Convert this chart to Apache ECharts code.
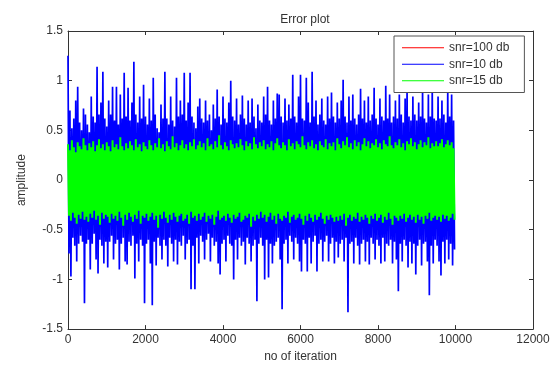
<!DOCTYPE html>
<html><head><meta charset="utf-8">
<script src="https://cdn.jsdelivr.net/npm/echarts@6/dist/echarts.min.js"></script>
<style>html,body{margin:0;padding:0;background:#fff}#c{width:555px;height:368px}</style>
</head><body><div id="c"></div>
<script>
// iteration step between successive samples (each sample = one peak + one trough)
const STEP = 50;
const xTicks = [0, 2000, 4000, 6000, 8000, 10000, 12000];
const yTicks = [-1.5, -1, -0.5, 0, 0.5, 1, 1.5];
const seriesNames = ['snr=100 db', 'snr=10 db', 'snr=15 db'];

// snr=10 db (blue) upper peaks
const blueHi = [
1.25,0.70,0.52,0.62,0.80,0.94,0.58,0.50,0.72,0.66,
0.56,0.48,0.84,0.64,0.58,1.14,0.66,0.78,1.09,0.62,
0.54,0.80,0.66,0.94,0.60,0.94,0.56,0.86,0.62,1.08,
0.64,0.93,0.60,0.78,1.19,0.66,0.58,0.84,0.62,0.96,
0.64,0.56,0.82,0.60,1.03,0.66,0.52,0.48,0.76,0.62,
1.09,0.62,0.56,0.84,0.60,0.54,1.03,0.64,0.80,0.66,
1.08,0.60,0.78,1.08,0.64,0.58,0.52,0.74,0.82,0.62,
0.58,0.80,0.60,0.66,0.50,0.76,0.62,0.91,0.64,0.56,
0.84,0.62,0.58,0.78,1.00,0.64,0.60,0.82,0.56,0.66,
0.85,0.62,0.56,0.80,0.58,0.82,0.64,0.52,0.76,0.60,
0.58,0.84,0.66,0.94,0.60,0.56,0.80,0.62,0.87,0.86,
0.64,0.58,0.82,0.60,0.76,0.62,1.06,0.64,0.58,0.84,
1.06,0.62,0.60,1.03,0.78,0.58,1.09,0.64,0.80,0.56,
0.66,0.82,0.60,0.56,0.84,0.62,0.88,0.64,0.58,0.78,
0.62,0.80,1.01,0.64,0.58,0.84,0.60,0.86,0.62,0.56,
0.66,0.92,0.62,0.80,0.58,0.84,0.60,0.66,0.93,0.62,
0.56,0.82,0.64,0.60,0.95,0.62,0.86,0.58,0.64,0.80,
0.62,0.86,0.66,0.58,0.82,0.92,0.64,0.60,0.84,0.66,
0.60,0.78,0.64,0.92,0.62,0.58,0.86,0.64,0.93,0.62,
0.60,0.84,0.62,0.80,0.66,0.58,0.92,0.64,0.86,0.60];
// snr=10 db (blue) lower troughs
const blueLo = [
-0.74,-0.97,-0.58,-0.66,-0.82,-0.64,-0.56,-0.62,-1.24,-0.64,
-0.60,-0.90,-0.64,-0.54,-0.80,-0.94,-0.60,-0.66,-0.84,-0.62,
-0.88,-0.62,-0.56,-0.80,-0.64,-0.60,-0.90,-0.64,-0.58,-0.82,
-0.85,-0.62,-0.66,-0.56,-0.99,-0.64,-0.82,-0.60,-0.66,-1.24,
-0.64,-0.60,-0.84,-1.26,-0.62,-0.86,-0.58,-0.66,-0.80,-0.60,
-0.66,-0.87,-0.58,-0.64,-0.82,-0.60,-0.85,-0.62,-0.66,-0.56,
-0.80,-0.64,-0.60,-1.10,-0.66,-1.10,-0.58,-0.84,-0.56,-0.62,
-0.80,-0.60,-0.54,-0.82,-0.58,-0.66,-0.62,-0.84,-0.95,-0.64,
-0.60,-0.82,-0.56,-0.64,-0.66,-1.00,-0.60,-0.80,-0.58,-0.66,
-0.62,-0.85,-0.58,-0.64,-0.82,-0.66,-0.60,-1.22,-0.64,-0.58,
-0.66,-1.00,-0.60,-0.98,-0.64,-0.84,-0.66,-0.62,-0.58,-0.80,
-1.30,-0.64,-0.60,-0.84,-0.56,-0.62,-0.80,-0.58,-0.64,-0.82,
-0.92,-0.60,-0.64,-0.92,-0.58,-0.84,-0.62,-0.56,-0.92,-0.64,
-0.60,-0.82,-0.62,-0.56,-0.82,-0.64,-0.58,-0.84,-0.62,-0.78,
-0.64,-0.60,-0.82,-0.58,-1.33,-0.64,-0.62,-0.84,-0.58,-0.66,
-0.85,-0.64,-0.60,-0.82,-0.62,-0.85,-0.58,-0.64,-0.80,-0.60,
-0.66,-0.84,-0.58,-0.82,-0.64,-0.66,-0.60,-0.84,-0.62,-0.80,
-1.12,-0.64,-0.82,-0.60,-0.66,-0.88,-0.62,-0.84,-0.64,-0.95,
-0.66,-0.60,-0.86,-0.64,-0.62,-0.82,-1.16,-0.66,-0.84,-0.60,
-0.66,-0.82,-0.96,-0.62,-0.84,-0.60,-0.80,-0.64,-0.86,-0.70];
// snr=15 db (green) upper peaks
const greenHi = [
0.36,0.30,0.40,0.33,0.28,0.38,0.34,0.31,0.42,0.35,
0.30,0.37,0.33,0.39,0.29,0.35,0.41,0.32,0.36,0.30,
0.38,0.34,0.29,0.40,0.33,0.36,0.31,0.43,0.34,0.30,
0.37,0.32,0.39,0.35,0.30,0.41,0.33,0.36,0.29,0.38,
0.34,0.31,0.40,0.35,0.30,0.37,0.33,0.42,0.32,0.36,
0.29,0.39,0.34,0.31,0.44,0.33,0.37,0.30,0.35,0.40,
0.32,0.36,0.30,0.38,0.34,0.41,0.31,0.35,0.39,0.33,
0.37,0.30,0.42,0.34,0.36,0.31,0.39,0.33,0.45,0.35,
0.31,0.38,0.34,0.30,0.40,0.36,0.32,0.37,0.33,0.41,
0.35,0.30,0.39,0.34,0.37,0.31,0.43,0.36,0.32,0.38,
0.34,0.40,0.31,0.36,0.33,0.39,0.30,0.37,0.42,0.35,
0.32,0.38,0.35,0.30,0.41,0.34,0.37,0.31,0.39,0.36,
0.33,0.44,0.35,0.31,0.38,0.34,0.40,0.32,0.36,0.30,
0.39,0.35,0.33,0.41,0.31,0.37,0.34,0.38,0.30,0.42,
0.36,0.32,0.39,0.35,0.43,0.33,0.37,0.31,0.40,0.34,
0.38,0.30,0.36,0.42,0.34,0.39,0.32,0.37,0.35,0.41,
0.33,0.37,0.31,0.40,0.36,0.34,0.44,0.35,0.32,0.38,
0.35,0.41,0.33,0.37,0.30,0.39,0.36,0.42,0.34,0.38,
0.31,0.36,0.40,0.33,0.38,0.35,0.43,0.32,0.37,0.34,
0.39,0.34,0.37,0.41,0.33,0.36,0.40,0.35,0.38,0.32];
// snr=15 db (green) lower troughs
const greenLo = [
-0.36,-0.41,-0.33,-0.38,-0.44,-0.35,-0.39,-0.32,-0.40,-0.37,
-0.42,-0.34,-0.38,-0.31,-0.40,-0.36,-0.45,-0.33,-0.39,-0.35,
-0.37,-0.43,-0.34,-0.39,-0.36,-0.41,-0.32,-0.38,-0.46,-0.35,
-0.40,-0.33,-0.37,-0.42,-0.35,-0.39,-0.31,-0.44,-0.36,-0.38,
-0.34,-0.41,-0.37,-0.33,-0.40,-0.36,-0.48,-0.35,-0.39,-0.32,
-0.38,-0.43,-0.35,-0.40,-0.33,-0.37,-0.42,-0.36,-0.34,-0.41,
-0.39,-0.35,-0.44,-0.32,-0.38,-0.36,-0.41,-0.34,-0.40,-0.37,
-0.33,-0.42,-0.36,-0.39,-0.35,-0.45,-0.37,-0.31,-0.40,-0.38,
-0.36,-0.41,-0.34,-0.38,-0.43,-0.35,-0.39,-0.37,-0.33,-0.42,
-0.40,-0.36,-0.38,-0.34,-0.47,-0.37,-0.41,-0.35,-0.39,-0.32,
-0.38,-0.35,-0.42,-0.37,-0.33,-0.40,-0.36,-0.44,-0.34,-0.39,
-0.41,-0.36,-0.38,-0.32,-0.43,-0.37,-0.35,-0.40,-0.38,-0.34,
-0.39,-0.45,-0.36,-0.41,-0.34,-0.38,-0.42,-0.35,-0.40,-0.37,
-0.33,-0.39,-0.44,-0.36,-0.40,-0.35,-0.38,-0.42,-0.37,-0.41,
-0.36,-0.40,-0.34,-0.46,-0.38,-0.35,-0.41,-0.37,-0.39,-0.33,
-0.42,-0.37,-0.40,-0.35,-0.38,-0.44,-0.36,-0.39,-0.34,-0.41,
-0.38,-0.35,-0.43,-0.37,-0.40,-0.33,-0.39,-0.45,-0.36,-0.38,
-0.41,-0.36,-0.39,-0.34,-0.42,-0.38,-0.35,-0.40,-0.37,-0.43,
-0.35,-0.40,-0.37,-0.44,-0.36,-0.39,-0.33,-0.41,-0.38,-0.36,
-0.40,-0.37,-0.42,-0.35,-0.39,-0.36,-0.41,-0.38,-0.34,-0.40];
// snr=100 db (red) – tiny error, hidden beneath the others
const redHi = [0.03,0.02,0.04,0.01,0.03,0.02,0.02,0.04,0.03,0.01,0.02,0.03,0.04,0.02,0.03,0.01,0.02,0.04,0.03,0.02];
const redLo = [-0.02,-0.04,-0.01,-0.03,-0.02,-0.03,-0.04,-0.02,-0.01,-0.03,-0.02,-0.04,-0.03,-0.02,-0.01,-0.03,-0.04,-0.02,-0.03,-0.02];

function zig(hi, lo, step) {
  const out = [];
  for (let i = 0; i < hi.length; i++) {
    out.push([i * step, hi[i]]);
    out.push([i * step + step / 2, lo[i]]);
  }
  return out;
}

const FONT = 'Liberation Sans';
const chart = echarts.init(document.getElementById('c'), null, {renderer: 'canvas'});
const tickStyle = {inside: true, length: 4, lineStyle: {color: '#333'}};
const axLine = {onZero: false, lineStyle: {color: '#333', width: 1}};
const lblStyle = {color: '#333', fontSize: 12, fontFamily: FONT};

chart.setOption({
  animation: false,
  backgroundColor: '#fff',
  title: {text: 'Error plot', left: 300, top: 9, textAlign: 'center',
    textStyle: {fontSize: 12, fontWeight: 'normal', color: '#333', fontFamily: FONT}},
  grid: {left: 68, right: 22, top: 31, bottom: 34},
  legend: {
    orient: 'vertical', left: 394, top: 36,
    padding: [5, 15, 5, 8], itemGap: 3, itemWidth: 42, itemHeight: 1,
    icon: 'rect', borderColor: '#555', borderWidth: 1, backgroundColor: '#fff',
    textStyle: {fontSize: 12, color: '#333', fontFamily: FONT, lineHeight: 13.5},
    data: seriesNames
  },
  xAxis: [{
    type: 'value', min: xTicks[0], max: xTicks[xTicks.length - 1], interval: 2000,
    name: 'no of iteration', nameLocation: 'middle', nameGap: 19,
    nameTextStyle: {fontSize: 12, color: '#333', fontFamily: FONT},
    axisLine: axLine, axisTick: tickStyle, splitLine: {show: false},
    axisLabel: Object.assign({margin: 5, formatter: v => String(v)}, lblStyle)
  }, {
    type: 'value', position: 'top', min: xTicks[0], max: xTicks[xTicks.length - 1], interval: 2000,
    axisLine: axLine, axisTick: tickStyle, splitLine: {show: false}, axisLabel: {show: false}
  }],
  yAxis: [{
    type: 'value', min: yTicks[0], max: yTicks[yTicks.length - 1], interval: 0.5,
    name: 'amplitude', nameLocation: 'middle', nameGap: 40,
    nameTextStyle: {fontSize: 12, color: '#333', fontFamily: FONT},
    axisLine: axLine, axisTick: tickStyle, splitLine: {show: false},
    axisLabel: Object.assign({margin: 5, formatter: v => String(v)}, lblStyle)
  }, {
    type: 'value', position: 'right', min: yTicks[0], max: yTicks[yTicks.length - 1], interval: 0.5,
    axisLine: axLine, axisTick: tickStyle, splitLine: {show: false}, axisLabel: {show: false}
  }],
  series: [
    {name: seriesNames[0], type: 'line', showSymbol: false, symbol: 'none',
     color: '#ff0000', lineStyle: {width: 1, color: '#ff0000'}, data: zig(redHi, redLo, 500)},
    {name: seriesNames[1], type: 'line', showSymbol: false, symbol: 'none',
     color: '#0000ff', lineStyle: {width: 1.7, color: '#0000ff'}, data: zig(blueHi, blueLo, STEP)},
    {name: seriesNames[2], type: 'line', showSymbol: false, symbol: 'none',
     color: '#00ff00', lineStyle: {width: 2, color: '#00ff00'}, data: zig(greenHi, greenLo, STEP)}
  ]
});
</script>
</body></html>
